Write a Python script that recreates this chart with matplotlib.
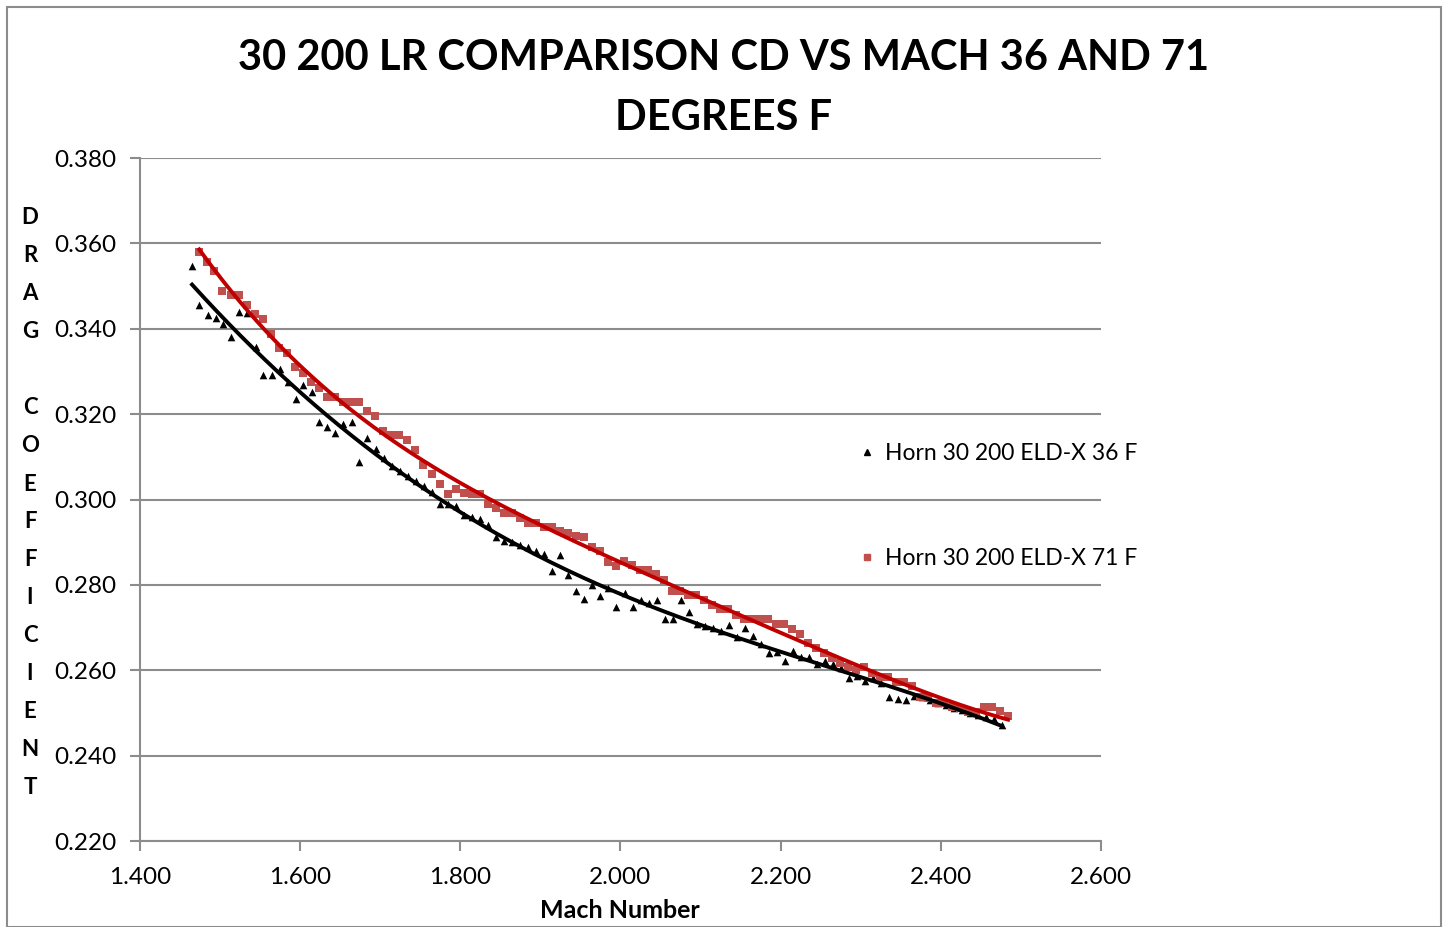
import numpy as np
from matplotlib import pyplot as plt
from matplotlib.patches import Rectangle
from matplotlib.lines import Line2D

plt.rcParams["font.family"] = ["Lato", "DejaVu Sans"]

title = "30 200 LR COMPARISON CD VS MACH 36 AND 71\nDEGREES F"
ylabel = "DRAG COEFFICIENT"
xlabel = "Mach Number"
label_36 = "Horn 30 200 ELD-X 36 F"
label_71 = "Horn 30 200 ELD-X 71 F"

# 36 F (black triangles)
mach_36 = [1.465, 1.474, 1.485, 1.495, 1.504, 1.514, 1.524, 1.534, 1.545, 1.554,
           1.565, 1.575, 1.585, 1.595, 1.604, 1.615, 1.624, 1.634, 1.644, 1.654,
           1.665, 1.674, 1.684, 1.695, 1.705, 1.715, 1.725, 1.735, 1.745, 1.755,
           1.765, 1.775, 1.785, 1.795, 1.805, 1.815, 1.825, 1.835, 1.845, 1.855,
           1.865, 1.875, 1.885, 1.895, 1.905, 1.915, 1.925, 1.935, 1.945, 1.955,
           1.965, 1.975, 1.985, 1.995, 2.005, 2.015, 2.025, 2.035, 2.045, 2.055,
           2.065, 2.075, 2.085, 2.095, 2.105, 2.115, 2.125, 2.135, 2.145, 2.155,
           2.165, 2.175, 2.185, 2.195, 2.205, 2.215, 2.225, 2.235, 2.245, 2.255,
           2.265, 2.275, 2.285, 2.295, 2.305, 2.315, 2.325, 2.335, 2.346, 2.356,
           2.366, 2.376, 2.386, 2.396, 2.406, 2.416, 2.426, 2.436, 2.446, 2.456,
           2.466, 2.476]
cd_36 = [0.3547, 0.3456, 0.3432, 0.3425, 0.3411, 0.3381, 0.3439, 0.3437, 0.3357, 0.3292,
         0.3292, 0.3306, 0.3275, 0.3236, 0.3268, 0.3252, 0.3182, 0.3170, 0.3156, 0.3177,
         0.3182, 0.3088, 0.3144, 0.3118, 0.3097, 0.3079, 0.3067, 0.3055, 0.3043, 0.3032,
         0.3018, 0.2990, 0.2990, 0.2985, 0.2964, 0.2959, 0.2954, 0.2940, 0.2912, 0.2903,
         0.2900, 0.2893, 0.2889, 0.2879, 0.2872, 0.2833, 0.2870, 0.2823, 0.2786, 0.2767,
         0.2800, 0.2774, 0.2793, 0.2748, 0.2781, 0.2748, 0.2765, 0.2758, 0.2765, 0.2720,
         0.2720, 0.2765, 0.2737, 0.2708, 0.2704, 0.2699, 0.2692, 0.2706, 0.2678, 0.2699,
         0.2680, 0.2662, 0.2641, 0.2643, 0.2622, 0.2645, 0.2631, 0.2631, 0.2615, 0.2622,
         0.2615, 0.2605, 0.2582, 0.2587, 0.2575, 0.2582, 0.2570, 0.2537, 0.2533, 0.2530,
         0.2540, 0.2537, 0.2530, 0.2523, 0.2519, 0.2512, 0.2507, 0.2500, 0.2495, 0.2491,
         0.2486, 0.2472]

# 71 F (red squares)
mach_71 = [1.474, 1.484, 1.493, 1.503, 1.514, 1.524, 1.534, 1.544, 1.554, 1.564,
           1.574, 1.584, 1.594, 1.604, 1.614, 1.624, 1.634, 1.644, 1.654, 1.664,
           1.674, 1.684, 1.694, 1.704, 1.714, 1.724, 1.734, 1.744, 1.754, 1.764,
           1.774, 1.784, 1.794, 1.804, 1.814, 1.824, 1.834, 1.844, 1.854, 1.864,
           1.874, 1.884, 1.894, 1.904, 1.914, 1.924, 1.934, 1.944, 1.954, 1.964,
           1.974, 1.984, 1.994, 2.004, 2.014, 2.024, 2.034, 2.044, 2.054, 2.064,
           2.074, 2.084, 2.094, 2.104, 2.114, 2.124, 2.134, 2.144, 2.154, 2.164,
           2.174, 2.184, 2.194, 2.204, 2.214, 2.224, 2.234, 2.244, 2.254, 2.264,
           2.274, 2.284, 2.294, 2.304, 2.314, 2.324, 2.334, 2.344, 2.354, 2.364,
           2.374, 2.384, 2.394, 2.404, 2.414, 2.424, 2.434, 2.444, 2.454, 2.464,
           2.474, 2.484]
cd_71 = [0.3580, 0.3556, 0.3535, 0.3488, 0.3479, 0.3479, 0.3456, 0.3435, 0.3423, 0.3388,
         0.3355, 0.3343, 0.3310, 0.3296, 0.3275, 0.3261, 0.3240, 0.3240, 0.3228, 0.3228,
         0.3228, 0.3207, 0.3196, 0.3161, 0.3151, 0.3151, 0.3139, 0.3116, 0.3081, 0.3060,
         0.3036, 0.3013, 0.3025, 0.3015, 0.3013, 0.3013, 0.2990, 0.2980, 0.2968, 0.2968,
         0.2957, 0.2945, 0.2945, 0.2936, 0.2936, 0.2926, 0.2922, 0.2915, 0.2912, 0.2889,
         0.2879, 0.2854, 0.2844, 0.2856, 0.2847, 0.2835, 0.2835, 0.2826, 0.2811, 0.2786,
         0.2786, 0.2776, 0.2776, 0.2765, 0.2753, 0.2744, 0.2744, 0.2730, 0.2720, 0.2720,
         0.2720, 0.2720, 0.2708, 0.2708, 0.2697, 0.2685, 0.2664, 0.2652, 0.2641, 0.2629,
         0.2617, 0.2608, 0.2601, 0.2608, 0.2594, 0.2584, 0.2584, 0.2573, 0.2573, 0.2563,
         0.2537, 0.2535, 0.2523, 0.2523, 0.2514, 0.2512, 0.2502, 0.2502, 0.2514, 0.2514,
         0.2505, 0.2493]

grid_col = "#8c8c8c"

fig = plt.figure(figsize=(14.48, 9.27), dpi=100)
# outer chart border
fig.patches.append(Rectangle((7 / 1448, 0.0), 1434 / 1448, 920 / 927, transform=fig.transFigure,
                             fill=False, edgecolor=grid_col, linewidth=1.5))

ax = fig.add_axes([140 / 1448, 1 - 841 / 927, 961 / 1448, 683 / 927])

ax.scatter(mach_36, cd_36, marker="^", s=30, color="black", zorder=3, linewidths=0)
ax.scatter(mach_71, cd_71, marker="s", s=32, color="#c0504d", zorder=3, linewidths=0)

# polynomial trend lines like Excel
for xs, ys, col in [(mach_36, cd_36, "black"), (mach_71, cd_71, "#c00000")]:
    coef = np.polyfit(xs, ys, 4)
    xx = np.linspace(min(xs), max(xs), 200)
    ax.plot(xx, np.polyval(coef, xx), color=col, linewidth=2.8, zorder=4)

ax.set_xlim(1.4, 2.6)
ax.set_ylim(0.22, 0.38)
ax.set_xticks(np.arange(1.4, 2.61, 0.2))
ax.set_yticks(np.arange(0.22, 0.381, 0.02))
ax.xaxis.set_major_formatter(plt.FuncFormatter(lambda v, p: f"{v:.3f}"))
ax.yaxis.set_major_formatter(plt.FuncFormatter(lambda v, p: f"{v:.3f}"))
ax.tick_params(axis="both", labelsize=17.5, color=grid_col, width=1.5, length=7, direction="out")
ax.tick_params(axis="x", pad=12)
ax.tick_params(axis="y", pad=10)
ax.grid(axis="y", color=grid_col, linewidth=1.5)
ax.set_axisbelow(True)
for s in ["top", "right"]:
    ax.spines[s].set_visible(False)
for s in ["left", "bottom"]:
    ax.spines[s].set_color(grid_col)
    ax.spines[s].set_linewidth(1.5)

fig.text(0.5, 1 - 88 / 927, title, ha="center", va="center", fontsize=30,
         fontweight="bold", linespacing=1.7)

# stacked vertical y label
for i, ch in enumerate(ylabel):
    fig.text(30 / 1448, 1 - (218 + 38 * i) / 927, ch, ha="center", va="center",
             fontsize=16, fontweight="bold")

fig.text(620 / 1448, 1 - 911 / 927, xlabel, ha="center", va="center",
         fontsize=18, fontweight="bold")

handles = [Line2D([], [], marker="^", color="black", linestyle="none", markersize=5),
           Line2D([], [], marker="s", color="#c0504d", linestyle="none", markersize=5)]
fig.legend(handles, [label_36, label_71], loc="upper left",
           bbox_to_anchor=(839 / 1448, 1 - 422 / 927), frameon=False, fontsize=16.5,
           labelspacing=3.7, handlelength=0.6, handletextpad=0.5)

fig.savefig("out.png", dpi=100)
